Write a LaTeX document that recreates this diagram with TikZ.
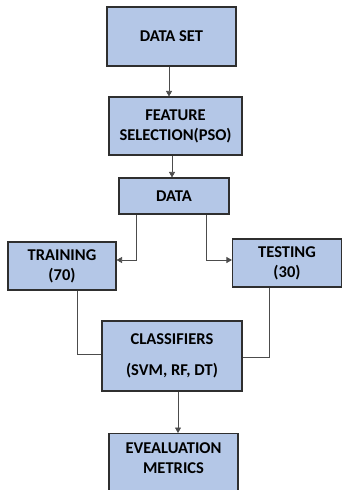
\documentclass[tikz,border=0pt]{standalone}
\usepackage{fontspec}
\setmainfont{Carlito}
\usetikzlibrary{arrows.meta}
\definecolor{boxblue}{HTML}{B4C7E7}
\definecolor{boxline}{HTML}{2F2F2F}

\tikzset{
  stage/.style={draw=boxline, line width=1.1pt, fill=boxblue, align=center,
    font=\bfseries\fontsize{16.5}{20}\selectfont, inner sep=0pt},
  link/.style={draw=black!70, line width=0.7pt},
  tip/.style={-{Triangle[width=6pt,length=5.5pt]}}
}

\begin{document}
\begin{tikzpicture}[x=1pt, y=-1pt]
        % Page frame
        \clip (0,0) rectangle (342,490);
        \useasboundingbox (0,0) rectangle (342,490);

        % Define stages
        \node[stage, minimum width=129pt, minimum height=59pt] (dataset) at (171.5,36.5) {DATA SET};
        \node[stage, minimum width=133pt, minimum height=58pt] (feature) at (175.5,126) {FEATURE\\SELECTION(PSO)};
        \node[stage, minimum width=110pt, minimum height=36pt] (data) at (174,196) {DATA};
        \node[stage, minimum width=108pt, minimum height=48pt] (training) at (62,266) {TRAINING\\(70)};
        \node[stage, minimum width=109pt, minimum height=48pt] (testing) at (287,263) {TESTING\\(30)};
        \node[stage, minimum width=140pt, minimum height=70pt] (classifiers) at (172,356) {CLASSIFIERS\\[11pt](SVM, RF, DT)};
        \node[stage, minimum width=129pt, text height=40pt, text depth=27pt, anchor=north] (evaluation) at (173.5,433) {EVEALUATION\\METRICS};

        % Draw the flow
        \draw[link, tip] ([xshift=-2.5pt]dataset.south) -- ([xshift=-6.5pt]feature.north);
        \draw[link, tip] ([xshift=-3.5pt]feature.south) -- ([xshift=-2pt]data.north);
        \draw[link, tip] ([xshift=-38pt]data.south) |- ([yshift=6pt]training.east);
        \draw[link, tip] ([xshift=32pt]data.south) |- ([yshift=3pt]testing.west);

        % Join the splits into the classifiers
        \draw[link] ([xshift=15pt]training.south) |- ([yshift=2pt]classifiers.west);
        \draw[link] ([xshift=-18pt]testing.south) |- ([yshift=-1pt]classifiers.east);
        \draw[link, tip] ([xshift=6pt]classifiers.south) -- ([xshift=4.5pt]evaluation.north);

    \end{tikzpicture}
\end{document}
